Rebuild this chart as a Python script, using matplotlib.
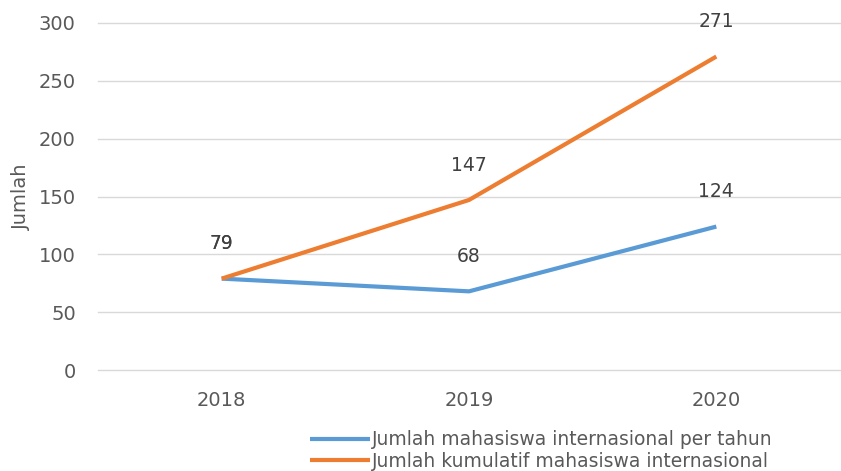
import matplotlib.pyplot as plt

years = ["2018", "2019", "2020"]
per_tahun = [79, 68, 124]
kumulatif = [79, 147, 271]
yticks = [0, 50, 100, 150, 200, 250, 300]

blue = "#5B9BD5"
orange = "#ED7D31"
grey = "#595959"

fig = plt.figure(figsize=(8.41, 4.71), dpi=100)
ax = fig.add_axes([98/841, 1-370/471, (840-98)/841, (370-23)/471])

x = range(len(years))
l1, = ax.plot(x, per_tahun, color=blue, lw=3, solid_capstyle="butt")
l2, = ax.plot(x, kumulatif, color=orange, lw=3, solid_capstyle="butt")

# data labels (2018 values coincide, so one label only shows)
for i, v in enumerate(per_tahun):
    ax.annotate(str(v), (i, v), xytext=(0, 25), textcoords="offset points",
                ha="center", va="center", fontsize=13.5, color="#404040")
for i, v in enumerate(kumulatif):
    ax.annotate(str(v), (i, v), xytext=(0, 25), textcoords="offset points",
                ha="center", va="center", fontsize=13.5, color="#404040")

ax.set_xlim(-0.5, 2.5)
ax.set_ylim(0, 300)
ax.set_yticks(yticks)
ax.set_xticks(list(x))
ax.set_xticklabels(years)
ax.grid(axis="y", color="#D9D9D9", lw=1)
for gl in ax.get_ygridlines():
    gl.set_clip_on(False)
ax.set_axisbelow(True)
for s in ax.spines.values():
    s.set_visible(False)
ax.tick_params(length=0, colors=grey, labelsize=14)
ax.tick_params(axis="y", pad=16)
ax.tick_params(axis="x", pad=15)
ax.set_ylabel("Jumlah", fontsize=14, color=grey)
ax.yaxis.set_label_coords(-0.091, 0.5)

fig.legend([l1, l2], ["Jumlah mahasiswa internasional per tahun",
                      "Jumlah kumulatif mahasiswa internasional"],
           loc="upper left", bbox_to_anchor=(301/841, 1-421/471), frameon=False,
           fontsize=13.5, labelcolor=grey, handlelength=3.2, handletextpad=0.1,
           labelspacing=0.12, borderpad=0)

fig.savefig("out.png", dpi=100)
